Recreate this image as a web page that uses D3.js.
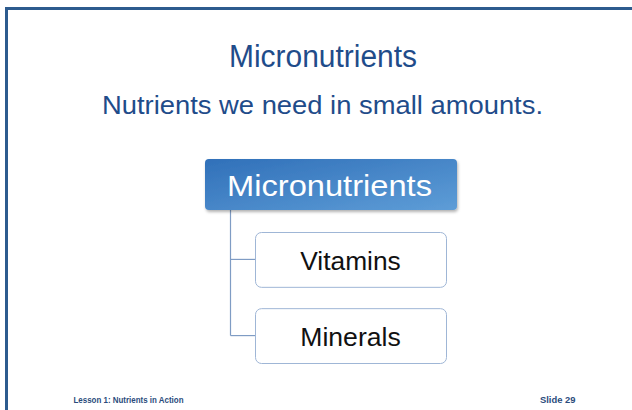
<!DOCTYPE html>
<html>
<head>
<meta charset="utf-8">
<script src="https://cdn.jsdelivr.net/npm/d3@7"></script>
<style>
  body { margin: 0; background: #fff; }
  svg { display: block; font-family: "Liberation Sans", Arial, sans-serif; }
</style>
</head>
<body>
<div id="slide"></div>
<script>
// slide text + org chart nodes
const title = "Micronutrients";
const subtitle = "Nutrients we need in small amounts.";
const rootLabel = "Micronutrients";
const childLabels = ["Vitamins", "Minerals"];
const footerLeft = "Lesson 1: Nutrients in Action";
const footerRight = "Slide 29";

const W = 632, H = 410;

let svg = d3.select('#slide')
  .append('svg')
  .attr('width', W)
  .attr('height', H);

const defs = svg.append('defs');
const grad = defs.append('linearGradient')
  .attr('id', 'rootGrad')
  .attr('x1', 0).attr('y1', 0).attr('x2', 1).attr('y2', 1);
grad.append('stop').attr('offset', '0%').attr('stop-color', '#3070b9');
grad.append('stop').attr('offset', '100%').attr('stop-color', '#5e9dd7');

const shadow = defs.append('filter').attr('id', 'shadow')
  .attr('x', '-10%').attr('y', '-10%').attr('width', '120%').attr('height', '140%');
shadow.append('feDropShadow')
  .attr('dx', 1).attr('dy', 2).attr('stdDeviation', 1.5)
  .attr('flood-color', '#000').attr('flood-opacity', 0.3);

// frame (left + top lines only)
svg.append('line')
  .attr('x1', 6.5).attr('y1', 8).attr('x2', 6.5).attr('y2', H)
  .attr('stroke', '#2d5b8e').attr('stroke-width', 3);
svg.append('line')
  .attr('x1', 5).attr('y1', 8.5).attr('x2', W).attr('y2', 8.5)
  .attr('stroke', '#2d5b8e').attr('stroke-width', 3);

// fit a text to a measured width
function fit(sel, len) {
  return sel.attr('textLength', len).attr('lengthAdjust', 'spacingAndGlyphs');
}

// titles
svg.append('text')
  .attr('x', 323).attr('y', 67)
  .attr('text-anchor', 'middle')
  .attr('fill', '#1f4c8a')
  .style('font-size', '31px')
  .text(title)
  .call(fit, 188);

svg.append('text')
  .attr('x', 322.5).attr('y', 114)
  .attr('text-anchor', 'middle')
  .attr('fill', '#1f4c8a')
  .style('font-size', '25.5px')
  .text(subtitle)
  .call(fit, 441);

// child rows via band scale
const yScale = d3.scaleBand()
  .domain(childLabels)
  .range([232, 363])
  .paddingInner(0.28);

const root = { x: 205, y: 159, w: 252, h: 51 };
const childX = 255, childW = 191;
const stemX = 230.5;

const g = svg.append('g');

// connectors
const lastMid = yScale(childLabels[childLabels.length - 1]) + yScale.bandwidth() / 2;
g.append('line')
  .attr('x1', stemX).attr('y1', root.y + root.h)
  .attr('x2', stemX).attr('y2', lastMid)
  .attr('stroke', '#7f9cc4').attr('stroke-width', 1.2);

g.selectAll('.conn')
  .data(childLabels)
  .enter().append('line')
  .attr('x1', stemX)
  .attr('x2', childX)
  .attr('y1', d => yScale(d) + yScale.bandwidth() / 2)
  .attr('y2', d => yScale(d) + yScale.bandwidth() / 2)
  .attr('stroke', '#7f9cc4').attr('stroke-width', 1.2);

// root box
g.append('rect')
  .attr('x', root.x).attr('y', root.y)
  .attr('width', root.w).attr('height', root.h)
  .attr('rx', 4)
  .attr('fill', 'url(#rootGrad)')
  .attr('filter', 'url(#shadow)');

g.append('text')
  .attr('x', 329.5)
  .attr('y', 196)
  .attr('text-anchor', 'middle')
  .attr('fill', '#fff')
  .style('font-size', '30px')
  .text(rootLabel)
  .call(fit, 205);

// child boxes
g.selectAll('.child')
  .data(childLabels)
  .enter().append('rect')
  .attr('x', childX + 0.5)
  .attr('y', d => yScale(d) + 0.5)
  .attr('width', childW)
  .attr('height', yScale.bandwidth())
  .attr('rx', 6)
  .attr('fill', '#fff')
  .attr('stroke', '#9fb6d6')
  .attr('stroke-width', 1);

g.selectAll('.childText')
  .data(childLabels)
  .enter().append('text')
  .attr('x', 350.5)
  .attr('y', d => yScale(d) + yScale.bandwidth() / 2 + 10.5)
  .attr('text-anchor', 'middle')
  .attr('fill', '#111')
  .style('font-size', '26px')
  .text(d => d)
  .call(fit, 100.5);

// footer
svg.append('text')
  .attr('x', 73.5).attr('y', 403)
  .attr('fill', '#2a4b7c')
  .style('font-size', '8.3px')
  .style('font-weight', 'bold')
  .text(footerLeft)
  .call(fit, 110);

svg.append('text')
  .attr('x', 540).attr('y', 403)
  .attr('fill', '#2a4b7c')
  .style('font-size', '9px')
  .style('font-weight', 'bold')
  .text(footerRight)
  .call(fit, 35.5);
</script>
</body>
</html>
